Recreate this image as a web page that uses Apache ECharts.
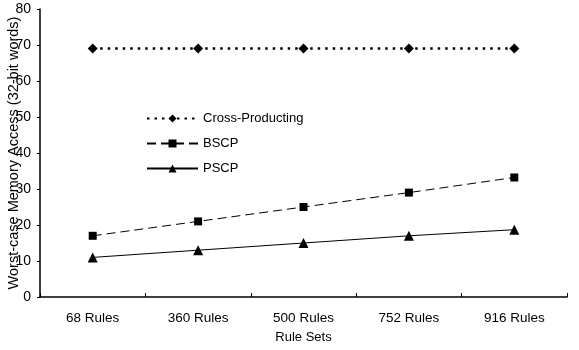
<!DOCTYPE html>
<html>
<head>
<meta charset="utf-8">
<script src="https://cdn.jsdelivr.net/npm/echarts@6/dist/echarts.min.js"></script>
<style>
  html, body { margin: 0; padding: 0; background: #fff; }
  #chart { width: 579px; height: 350px; }
</style>
</head>
<body>
<div id="chart"></div>
<script>
// Rule sets on the x axis
const ruleSets = ['68 Rules', '360 Rules', '500 Rules', '752 Rules', '916 Rules'];
// Worst-case memory accesses (32-bit words) per scheme
const crossProducting = [69, 69, 69, 69, 69];
const bscp = [17, 21, 25, 29, 33.2];
const pscp = [11, 13, 15, 17, 18.7];
const yTicks = [0, 10, 20, 30, 40, 50, 60, 70, 80];

const font = 'Liberation Sans, Arial, sans-serif';
const chart = echarts.init(document.getElementById('chart'), null, { renderer: 'canvas' });

chart.setOption({
  animation: false,
  backgroundColor: '#fff',
  textStyle: { fontFamily: font, color: '#000' },
  grid: { left: 40, right: 12, top: 9, bottom: 53, containLabel: false, outerBoundsMode: 'none' },
  legend: {
    orient: 'vertical',
    left: 141,
    top: 107,
    itemWidth: 51,
    itemHeight: 10,
    itemGap: 12,
    textStyle: { fontFamily: font, fontSize: 13, color: '#000' },
    data: ['Cross-Producting', 'BSCP', 'PSCP']
  },
  xAxis: {
    type: 'category',
    data: ruleSets,
    boundaryGap: true,
    name: 'Rule Sets',
    nameLocation: 'middle',
    nameGap: 34,
    nameTextStyle: { fontFamily: font, fontSize: 13, color: '#000', verticalAlign: 'top' },
    axisLine: { lineStyle: { color: '#000', width: 1.5 } },
    axisTick: { show: true, inside: true, length: 4, lineStyle: { color: '#000' } },
    axisLabel: { fontFamily: font, fontSize: 13.5, color: '#000', margin: 14 },
    splitLine: { show: false }
  },
  yAxis: {
    type: 'value',
    min: yTicks[0],
    max: yTicks[yTicks.length - 1],
    interval: 10,
    name: 'Worst-case Memory Access (32-bit words)',
    nameLocation: 'middle',
    nameGap: 19,
    nameMoveOverlap: false,
    nameTextStyle: { fontFamily: font, fontSize: 14.5, color: '#000' },
    axisLine: { show: true, lineStyle: { color: '#000', width: 1.5 } },
    axisTick: { show: true, length: 3, lineStyle: { color: '#000' } },
    axisLabel: { fontFamily: font, fontSize: 14, color: '#000', margin: 9 },
    splitLine: { show: false }
  },
  series: [
    {
      name: 'Cross-Producting',
      type: 'line',
      data: crossProducting,
      symbol: 'diamond',
      symbolSize: 10,
      itemStyle: { color: '#000' },
      lineStyle: { color: '#000', width: 2.5, type: [2.5, 5] }
    },
    {
      name: 'BSCP',
      type: 'line',
      data: bscp,
      symbol: 'rect',
      symbolSize: 8,
      itemStyle: { color: '#000' },
      lineStyle: { color: '#000', width: 1, type: [9, 5] }
    },
    {
      name: 'PSCP',
      type: 'line',
      data: pscp,
      symbol: 'triangle',
      symbolSize: 10,
      itemStyle: { color: '#000' },
      lineStyle: { color: '#000', width: 1, type: 'solid' }
    }
  ]
});
</script>
</body>
</html>
